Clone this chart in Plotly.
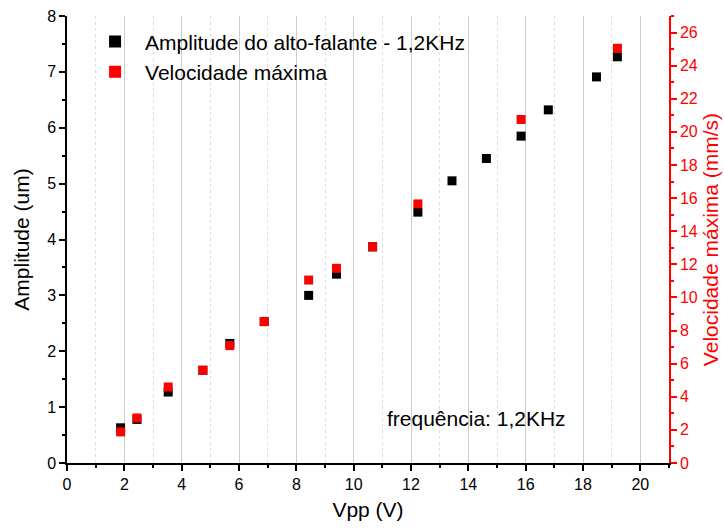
import plotly.graph_objects as go

vpp = [1.87, 2.44, 3.53, 4.74, 5.68, 6.88, 8.43, 9.40, 10.66, 12.24, 13.43, 14.63, 15.84, 16.79, 18.47, 19.20]
amplitude = [0.63, 0.78, 1.27, 1.66, 2.14, 2.53, 3.00, 3.38, 3.87, 4.49, 5.05, 5.45, 5.85, 6.32, 6.91, 7.27]

vpp_vel = [1.87, 2.44, 3.53, 4.74, 5.68, 6.88, 8.43, 9.40, 10.66, 12.24, 15.84, 19.20]
velocidade = [1.88, 2.72, 4.59, 5.60, 7.09, 8.55, 11.05, 11.76, 13.05, 15.65, 20.75, 25.05]

FONT = "Liberation Sans, Arial, sans-serif"

fig = go.Figure()
fig.add_trace(go.Scatter(
    x=vpp, y=amplitude, mode="markers", name="Amplitude do alto-falante - 1,2KHz",
    marker=dict(symbol="square", size=9, color="black"), yaxis="y"))
fig.add_trace(go.Scatter(
    x=vpp_vel, y=velocidade, mode="markers", name="Velocidade máxima",
    marker=dict(symbol="square", size=9, color="#ff0000"), yaxis="y2"))

fig.add_annotation(x=14.3, y=0.8, xref="x", yref="y", text="frequência: 1,2KHz",
                   showarrow=False, font=dict(family=FONT, size=21, color="black"))

fig.update_layout(
    width=724, height=531,
    margin=dict(l=67, r=55, t=16, b=68),
    paper_bgcolor="white", plot_bgcolor="white",
    font=dict(family=FONT, size=16, color="black"),
    showlegend=True,
    legend=dict(x=0.030, y=0.988, xanchor="left", yanchor="top",
                bgcolor="rgba(0,0,0,0)", font=dict(family=FONT, size=21),
                itemsizing="constant", itemwidth=50),
    xaxis=dict(
        range=[0, 21], tickmode="linear", tick0=0, dtick=2, automargin=False,
        showline=True, linecolor="black", linewidth=1.5,
        ticks="outside", ticklen=6, tickwidth=1.5, tickcolor="black",
        showgrid=True, gridcolor="#cccccc", gridwidth=1,
        minor=dict(dtick=1, ticks="outside", ticklen=3, tickcolor="black",
                   showgrid=True, gridcolor="#dddddd", griddash="dot"),
        zeroline=False,
        title=dict(text="Vpp (V)", font=dict(size=21), standoff=10),
        tickfont=dict(size=16),
    ),
    xaxis2=dict(
        range=[0, 21], overlaying="x", side="top", matches="x", automargin=False,
        tickmode="linear", tick0=0, dtick=2, showticklabels=False,
        showline=True, linecolor="black", linewidth=1.5,
        ticks="inside", ticklen=6, tickwidth=1.5, tickcolor="black",
        minor=dict(dtick=1, ticks="inside", ticklen=3, tickcolor="black"),
        showgrid=False, zeroline=False,
    ),
    yaxis=dict(
        range=[0, 8], tickmode="linear", tick0=0, dtick=1, automargin=False,
        showline=True, linecolor="black", linewidth=1.5,
        ticks="outside", ticklen=6, tickwidth=1.5, tickcolor="black",
        minor=dict(dtick=0.5, ticks="outside", ticklen=3, tickcolor="black"),
        showgrid=False, zeroline=False,
        title=dict(text="Amplitude (um)", font=dict(size=21), standoff=12),
        tickfont=dict(size=16),
    ),
    yaxis2=dict(
        range=[0, 27], overlaying="y", side="right", automargin=False,
        tickmode="linear", tick0=0, dtick=2,
        showline=True, linecolor="#ff0000", linewidth=1.5,
        ticks="outside", ticklen=6, tickwidth=1.5, tickcolor="#ff0000",
        minor=dict(dtick=1, ticks="outside", ticklen=3, tickcolor="#ff0000"),
        showgrid=False, zeroline=False,
        tickfont=dict(size=16, color="#ff0000"),
        title=dict(text="Velocidade máxima (mm/s)", font=dict(size=21, color="#ff0000"), standoff=6),
    ),
)

fig.write_html("out.html", config={"displayModeBar": False},
               post_script="document.body.style.margin='0';")
